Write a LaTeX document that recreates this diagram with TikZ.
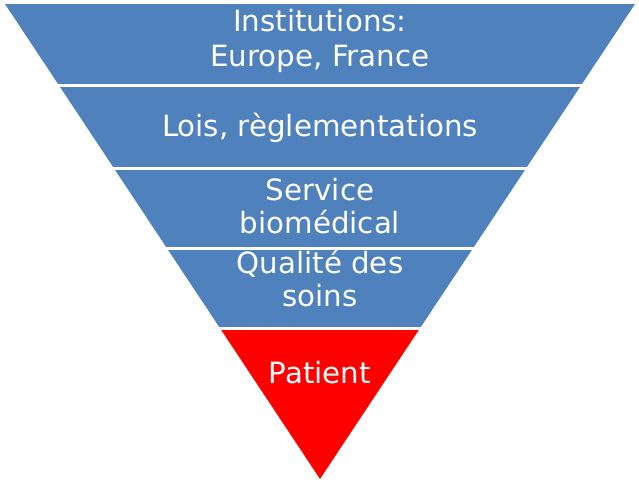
\documentclass[tikz,border=0pt]{standalone}
\usepackage{fontspec}
\setmainfont{DejaVu Sans}
\definecolor{bandblue}{HTML}{4F81BD}
\definecolor{bandred}{HTML}{FF0000}
\begin{document}
\begin{tikzpicture}[x=1pt,y=-1pt,
  lbl/.style={text=white,font=\fontsize{29.3}{34}\selectfont,anchor=base,inner sep=0pt}]
\useasboundingbox (0,0) rectangle (639,484);
\coordinate (tl) at (5,4);
\coordinate (tr) at (635,4);
\coordinate (apex) at (320,479);
\begin{scope}
  \clip (tl) -- (tr) -- (apex) -- cycle;
  \fill[bandblue] (0,4) rectangle (639,84);
  \fill[bandblue] (0,87) rectangle (639,167);
  \fill[bandblue] (0,170) rectangle (639,246.5);
  \fill[bandblue] (0,249.5) rectangle (639,327);
  \fill[bandred] (0,329.5) rectangle (639,484);
\end{scope}
\node[lbl] (l1a) at (320,32) {Institutions:};
\node[lbl] (l1b) at (320,67) {Europe, France};
\node[lbl] (l2) at (320,136) {Lois, règlementations};
\node[lbl] (l3a) at (320,200) {Service};
\node[lbl] (l3b) at (320,233) {biomédical};
\node[lbl] (l4a) at (320,273) {Qualité des};
\node[lbl] (l4b) at (320,306) {soins};
\node[lbl] (l5) at (320,383) {Patient};
\end{tikzpicture}
\end{document}
